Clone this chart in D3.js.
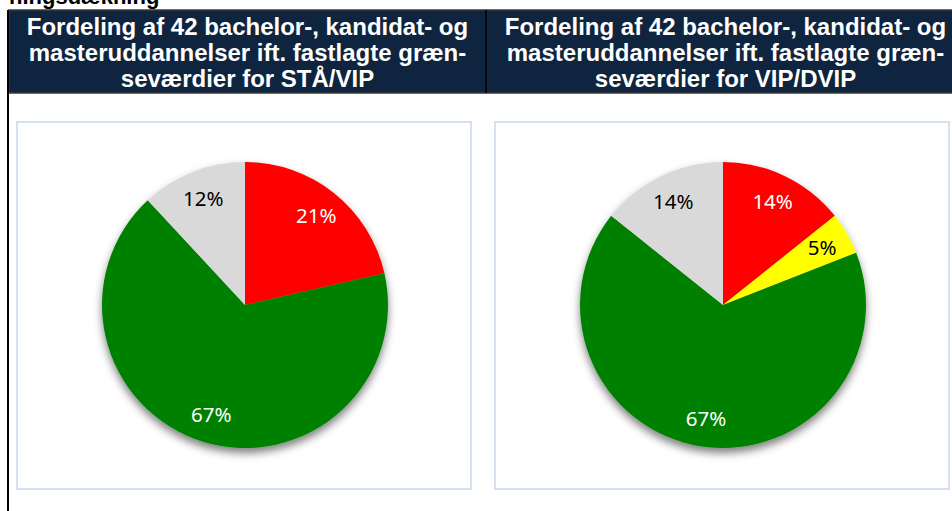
<!DOCTYPE html>
<html>
<head>
<meta charset="utf-8">
<script src="https://cdn.jsdelivr.net/npm/d3@7"></script>
<style>
  html, body { margin: 0; padding: 0; background: #fff; }
  svg { display: block; }
</style>
</head>
<body>
<div id="viz"></div>
<script>
// slice categories (clockwise from 12 o'clock)
const staCategories = ['Rød', 'Grøn', 'Grå'];
const staCounts = [9, 28, 5];            // of 42 programmes -> 21%, 67%, 12%
const vipCategories = ['Rød', 'Gul', 'Grøn', 'Grå'];
const vipCounts = [6, 2, 28, 6];         // of 42 programmes -> 14%, 5%, 67%, 14%

const headerLines = [
  ['Fordeling af 42 bachelor-, kandidat- og', 'masteruddannelser ift. fastlagte græn-', 'seværdier for STÅ/VIP'],
  ['Fordeling af 42 bachelor-, kandidat- og', 'masteruddannelser ift. fastlagte græn-', 'seværdier for VIP/DVIP']
];

const colors = { 'Rød': '#ff0000', 'Gul': '#ffff00', 'Grøn': '#008000', 'Grå': '#d9d9d9' };
const labelColors = { 'Rød': '#ffffff', 'Gul': '#000000', 'Grøn': '#ffffff', 'Grå': '#000000' };

const width = 952;
const height = 511;
const radius = 143;

const svg = d3.select('#viz')
  .append('svg')
  .attr('width', width)
  .attr('height', height);

const defs = svg.append('defs');
const shadow = defs.append('filter')
  .attr('id', 'shadow')
  .attr('x', '-20%').attr('y', '-20%')
  .attr('width', '140%').attr('height', '140%');
shadow.append('feDropShadow')
  .attr('dx', 0).attr('dy', 5)
  .attr('stdDeviation', 4)
  .attr('flood-color', '#000')
  .attr('flood-opacity', 0.5);

// heading above the table, cut off by the top edge as in the source page
svg.append('text')
  .attr('x', 9)
  .attr('y', 4)
  .style('font-family', '"Liberation Sans", Arial, sans-serif')
  .style('font-weight', 'bold')
  .style('font-size', '22px')
  .attr('fill', '#000')
  .text('ningsdækning');

// header band
const cellW = 477;
const cells = [{ x: 9 }, { x: 487 }];

svg.append('rect')
  .attr('x', 9).attr('y', 10)
  .attr('width', width).attr('height', 83)
  .attr('fill', '#0f243e')
  .attr('stroke', '#3a3a3a')
  .attr('stroke-width', 1.5);

svg.append('line')
  .attr('x1', 486).attr('x2', 486)
  .attr('y1', 10).attr('y2', 93)
  .attr('stroke', '#000').attr('stroke-width', 1.5);

cells.forEach((c, i) => {
  svg.append('g')
    .selectAll('text')
    .data(headerLines[i])
    .join('text')
    .attr('x', c.x + cellW / 2)
    .attr('y', (d, j) => 35 + j * 26)
    .attr('text-anchor', 'middle')
    .attr('fill', '#fff')
    .style('font-family', '"Liberation Sans", Arial, sans-serif')
    .style('font-weight', 'bold')
    .style('font-size', '24px')
    .text(d => d);
});

// left table border
svg.append('line')
  .attr('x1', 8).attr('x2', 8)
  .attr('y1', 10).attr('y2', height)
  .attr('stroke', '#000').attr('stroke-width', 2);

// chart frames
const frames = [
  { x: 17, y: 122, cx: 245, cy: 305, cats: staCategories, vals: staCounts },
  { x: 495, y: 122, cx: 723, cy: 305, cats: vipCategories, vals: vipCounts }
];

const pie = d3.pie().sort(null).value(d => d.value);
const arc = d3.arc().innerRadius(0).outerRadius(radius);
const labelArc = d3.arc().innerRadius(radius * 0.8).outerRadius(radius * 0.8);

frames.forEach(f => {
  svg.append('rect')
    .attr('x', f.x).attr('y', f.y)
    .attr('width', 454).attr('height', 367)
    .attr('fill', '#fff')
    .attr('stroke', '#d6e0f3')
    .attr('stroke-width', 2);

  const data = f.cats.map((c, i) => ({ cat: c, value: f.vals[i] }));
  const total = d3.sum(f.vals);
  const arcs = pie(data);

  const g = svg.append('g')
    .attr('transform', `translate(${f.cx},${f.cy})`);

  g.append('g')
    .attr('filter', 'url(#shadow)')
    .selectAll('path')
    .data(arcs)
    .join('path')
    .attr('d', arc)
    .attr('fill', d => colors[d.data.cat]);

  g.selectAll('text')
    .data(arcs)
    .join('text')
    .attr('transform', d => `translate(${labelArc.centroid(d)})`)
    .attr('text-anchor', 'middle')
    .attr('dy', '0.36em')
    .attr('fill', d => labelColors[d.data.cat])
    .style('font-family', '"Noto Sans", sans-serif')
    .style('font-size', '20.5px')
    .text(d => `${Math.round(100 * d.data.value / total)}%`);
});
</script>
</body>
</html>
